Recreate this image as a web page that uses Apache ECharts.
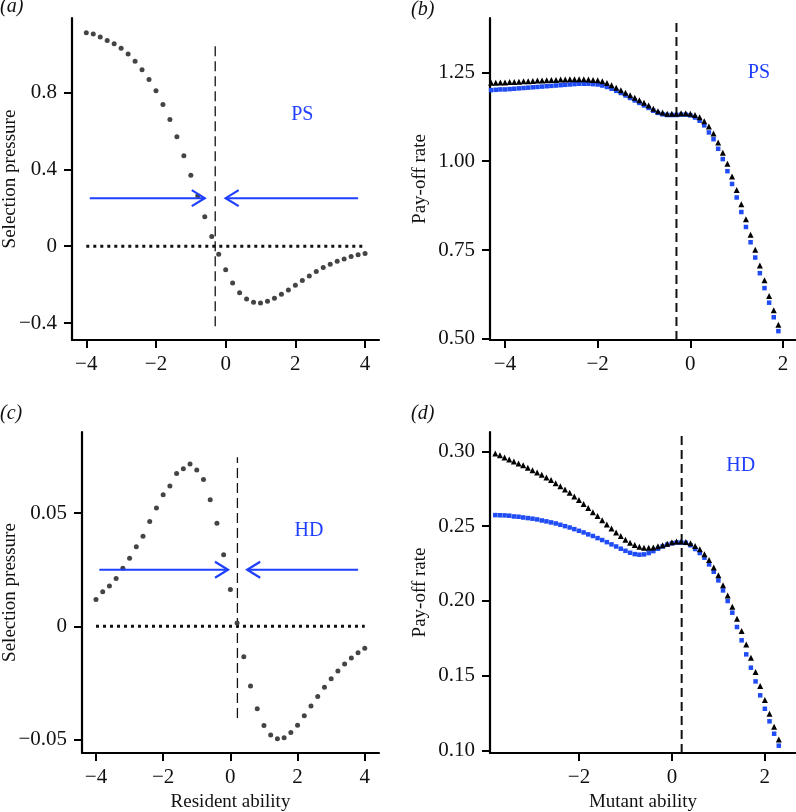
<!DOCTYPE html>
<html>
<head>
<meta charset="utf-8">
<script src="https://cdn.jsdelivr.net/npm/echarts@6/dist/echarts.min.js"></script>
<style>
  html, body { margin: 0; padding: 0; background: #fff; }
  #main { width: 796px; height: 812px; }
</style>
</head>
<body>
<div id="main"></div>
<script>
// ---- data ----
// (a) and (c): resident ability grid
var residentX = [-4.0,-3.8,-3.6,-3.4,-3.2,-3.0,-2.8,-2.6,-2.4,-2.2,-2.0,-1.8,-1.6,-1.4,-1.2,-1.0,-0.8,-0.6,-0.4,-0.2,
  0.0,0.2,0.4,0.6,0.8,1.0,1.2,1.4,1.6,1.8,2.0,2.2,2.4,2.6,2.8,3.0,3.2,3.4,3.6,3.8,4.0];
var psPressure = [1.111,1.104,1.089,1.071,1.054,1.030,1.000,0.963,0.918,0.868,0.809,0.737,0.659,0.570,0.471,0.369,0.262,0.153,0.050,-0.042,
  -0.123,-0.191,-0.242,-0.275,-0.292,-0.296,-0.287,-0.271,-0.250,-0.228,-0.203,-0.179,-0.155,-0.132,-0.111,-0.094,-0.078,-0.066,-0.054,-0.045,-0.038];
var hdPressure = [0.0119,0.0153,0.0178,0.0211,0.0256,0.0301,0.0351,0.0398,0.0463,0.0523,0.0581,0.0620,0.0675,0.0696,0.0717,0.0690,0.0648,0.0559,0.0455,0.0316,
  0.0163,0.0015,-0.0134,-0.0263,-0.0364,-0.0438,-0.0480,-0.0496,-0.0492,-0.0468,-0.0436,-0.0395,-0.0352,-0.0310,-0.0269,-0.0231,-0.0197,-0.0166,-0.0140,-0.0116,-0.0097];

// (b) PS pay-off
var psMutantX = [-4.3,-4.2,-4.1,-4.0,-3.9,-3.8,-3.7,-3.6,-3.5,-3.4,-3.3,-3.2,-3.1,-3.0,-2.9,-2.8,-2.7,-2.6,-2.5,-2.4,-2.3,-2.2,-2.1,-2.0,
  -1.9,-1.8,-1.7,-1.6,-1.5,-1.4,-1.3,-1.2,-1.1,-1.0,-0.9,-0.8,-0.7,-0.6,-0.5,-0.4,-0.3,-0.2,-0.1,0.0,
  0.1,0.2,0.3,0.4,0.5,0.6,0.7,0.8,0.9,1.0,1.1,1.2,1.3,1.4,1.5,1.6,1.7,1.8,1.9];
var psBlack = [1.218,1.218,1.219,1.219,1.220,1.220,1.221,1.222,1.222,1.223,1.224,1.224,1.225,1.226,1.226,1.227,1.227,1.228,1.228,1.228,1.228,1.227,1.226,1.225,
  1.222,1.217,1.211,1.204,1.197,1.190,1.183,1.176,1.169,1.162,1.154,1.145,1.138,1.134,1.131,1.131,1.131,1.132,1.132,1.131,
  1.127,1.121,1.110,1.095,1.075,1.050,1.021,0.990,0.954,0.916,0.876,0.834,0.790,0.748,0.704,0.662,0.618,0.578,0.537];
var psBlue = [1.200,1.201,1.202,1.202,1.203,1.204,1.205,1.206,1.207,1.208,1.209,1.210,1.211,1.212,1.213,1.214,1.215,1.216,1.217,1.218,1.218,1.218,1.217,1.216,
  1.213,1.209,1.204,1.198,1.192,1.185,1.178,1.171,1.164,1.157,1.150,1.142,1.136,1.132,1.130,1.130,1.130,1.131,1.131,1.129,
  1.123,1.114,1.101,1.081,1.062,1.035,1.006,0.972,0.936,0.898,0.857,0.815,0.772,0.729,0.685,0.643,0.602,0.561,0.522];

// (d) HD pay-off
var hdMutantX = [-3.8,-3.7,-3.6,-3.5,-3.4,-3.3,-3.2,-3.1,-3.0,-2.9,-2.8,-2.7,-2.6,-2.5,-2.4,-2.3,-2.2,-2.1,-2.0,
  -1.9,-1.8,-1.7,-1.6,-1.5,-1.4,-1.3,-1.2,-1.1,-1.0,-0.9,-0.8,-0.7,-0.6,-0.5,-0.4,-0.3,-0.2,-0.1,0.0,
  0.1,0.2,0.3,0.4,0.5,0.6,0.7,0.8,0.9,1.0,1.1,1.2,1.3,1.4,1.5,1.6,1.7,1.8,1.9,2.0,2.1,2.2,2.3];
var hdBlack = [0.2980,0.2967,0.2953,0.2940,0.2926,0.2913,0.2900,0.2884,0.2868,0.2853,0.2837,0.2819,0.2802,0.2781,0.2761,0.2739,0.2717,0.2692,0.2668,
  0.2641,0.2614,0.2587,0.2561,0.2532,0.2505,0.2478,0.2451,0.2427,0.2402,0.2382,0.2367,0.2356,0.2349,0.2349,0.2351,0.2358,0.2366,0.2376,0.2385,
  0.2390,0.2390,0.2388,0.2379,0.2361,0.2338,0.2306,0.2266,0.2217,0.2164,0.2097,0.2030,0.1954,0.1874,0.1791,0.1702,0.1613,0.1517,0.1423,0.1330,0.1238,0.1151,0.1066];
var hdBlue = [0.2574,0.2573,0.2572,0.2570,0.2565,0.2563,0.2558,0.2554,0.2550,0.2545,0.2538,0.2532,0.2525,0.2518,0.2509,0.2500,0.2491,0.2480,0.2469,
  0.2458,0.2445,0.2434,0.2420,0.2407,0.2393,0.2378,0.2364,0.2349,0.2335,0.2322,0.2313,0.2309,0.2311,0.2320,0.2333,0.2349,0.2364,0.2376,0.2385,
  0.2390,0.2390,0.2388,0.2372,0.2347,0.2320,0.2289,0.2244,0.2195,0.2137,0.2070,0.1999,0.1921,0.1825,0.1736,0.1642,0.1553,0.1461,0.1368,0.1278,0.1194,0.1111,0.1031];

// dashed vertical markers: [x, yFrom, yTo]
var vlineA = [-0.3, -0.416, 1.063];
var vlineB = [-0.3, 0.497, 1.40];
var vlineC = [0.21, -0.0405, 0.0747];
var vlineD = [0.21, 0.0982, 0.311];
// dotted zero lines: [xFrom, xTo]
var zeroA = [-4, 4];
var zeroC = [-4, 4];
// arrows: [xFrom, xTo, y]
var arrowsA = [[-3.9, -0.6, 0.25], [3.8, 0.0, 0.25]];
var arrowsC = [[-3.9, -0.07, 0.025], [3.8, 0.5, 0.025]];
// game labels: [x, y, text]
var tagA = [2.2, 0.685, 'PS'];
var tagB = [1.48, 1.25, 'PS'];
var tagC = [2.34, 0.042, 'HD'];
var tagD = [1.48, 0.2906, 'HD'];

// tick values
var xTicksAC = [-4, -2, 0, 2, 4];
var xTicksB = [-4, -2, 0, 2];
var xTicksD = [-2, 0, 2];
var yTicksA = [-0.4, 0, 0.4, 0.8];
var yTicksB = [0.5, 0.75, 1.0, 1.25];
var yTicksC = [-0.05, 0, 0.05];
var yTicksD = [0.10, 0.15, 0.20, 0.25, 0.30];

function zip(xs, ys) {
  var out = [];
  for (var i = 0; i < xs.length; i++) out.push([xs[i], ys[i]]);
  return out;
}

var FONT = 'Liberation Serif';
var TICK_SIZE = 21;
var NAME_SIZE = 19;
var BLUE = '#1f3fff';
var SQUARE_BLUE = '#1f4cf5';

function minus(s) { return String(s).replace('-', '\u2212'); }

function xAxisOf(idx, min, max, ticks, name) {
  return {
    type: 'value', gridIndex: idx, min: min, max: max,
    name: name || '', nameLocation: 'middle', nameGap: 40, nameMoveOverlap: false,
    nameTextStyle: { fontFamily: FONT, fontSize: NAME_SIZE, color: '#111' },
    splitLine: { show: false },
    axisLine: { onZero: false, lineStyle: { color: '#000', width: 2.2 } },
    axisTick: { customValues: ticks, length: 8, lineStyle: { color: '#000', width: 2 } },
    axisLabel: { customValues: ticks, margin: 14, fontFamily: FONT, fontSize: TICK_SIZE, color: '#111',
      formatter: function (v) { return minus(v); } }
  };
}
function yAxisOf(idx, min, max, ticks, dec, name, gap) {
  return {
    type: 'value', gridIndex: idx, min: min, max: max,
    name: name, nameLocation: 'middle', nameGap: gap, nameMoveOverlap: false,
    nameTextStyle: { fontFamily: FONT, fontSize: NAME_SIZE, color: '#111' },
    splitLine: { show: false },
    axisLine: { onZero: false, lineStyle: { color: '#000', width: 2.2 } },
    axisTick: { customValues: ticks, length: 8, lineStyle: { color: '#000', width: 2 } },
    axisLabel: { customValues: ticks, margin: 15, fontFamily: FONT, fontSize: TICK_SIZE, color: '#111',
      formatter: function (v) { return v === 0 ? '0' : minus(v.toFixed(dec)); } }
  };
}

function arrowItem(params, api) {
  var p0 = api.coord([api.value(0), api.value(2)]);
  var p1 = api.coord([api.value(1), api.value(2)]);
  var dir = p1[0] > p0[0] ? 1 : -1;
  return {
    type: 'group',
    children: [
      { type: 'line', shape: { x1: p0[0], y1: p0[1], x2: p1[0], y2: p1[1] },
        style: { stroke: BLUE, lineWidth: 2 } },
      { type: 'polyline', shape: { points: [[p1[0] - dir * 13, p1[1] - 8], [p1[0], p1[1]], [p1[0] - dir * 13, p1[1] + 8]] },
        style: { stroke: BLUE, lineWidth: 2.2, fill: null } }
    ]
  };
}

function vline(idx, v, width, dash) {
  return { type: 'line', xAxisIndex: idx, yAxisIndex: idx, symbol: 'none', silent: true,
    data: [[v[0], v[1]], [v[0], v[2]]],
    lineStyle: { color: '#111', width: width, type: dash } };
}
function zeroLine(idx, v) {
  return { type: 'line', xAxisIndex: idx, yAxisIndex: idx, symbol: 'none', silent: true,
    data: [[v[0], 0], [v[1], 0]],
    lineStyle: { color: '#111', width: 3, type: [3, 4] } };
}
function tag(idx, t) {
  return { type: 'scatter', xAxisIndex: idx, yAxisIndex: idx, symbolSize: 0, silent: true,
    data: [[t[0], t[1]]], z: 5,
    label: { show: true, position: 'inside', formatter: t[2], fontFamily: FONT, fontSize: 20, color: BLUE, opacity: 1 } };
}
function dots(idx, data) {
  return { type: 'scatter', xAxisIndex: idx, yAxisIndex: idx, symbol: 'circle', symbolSize: 5,
    itemStyle: { color: '#444', opacity: 1 }, data: data, z: 3 };
}
function squares(idx, data) {
  return { type: 'scatter', xAxisIndex: idx, yAxisIndex: idx, symbol: 'rect', symbolSize: 4.5,
    itemStyle: { color: SQUARE_BLUE, opacity: 1 }, data: data, z: 3 };
}
function triangles(idx, data) {
  return { type: 'scatter', xAxisIndex: idx, yAxisIndex: idx, symbol: 'triangle', symbolSize: [6, 6],
    symbolOffset: [0, -1], itemStyle: { color: '#000', opacity: 1 }, data: data, z: 4 };
}
function arrows(idx, data) {
  return { type: 'custom', xAxisIndex: idx, yAxisIndex: idx, renderItem: arrowItem, data: data, z: 6, silent: true };
}

var chart = echarts.init(document.getElementById('main'), null, { renderer: 'canvas' });

var PANEL_FONT = 'italic 20px "Liberation Serif"';
var option = {
  backgroundColor: '#fff',
  animation: false,
  grid: [
    { left: 72, top: 18, width: 307, height: 322, containLabel: false, outerBoundsMode: 'none' },
    { left: 490, top: 18, width: 306, height: 322, containLabel: false, outerBoundsMode: 'none' },
    { left: 82, top: 432, width: 297, height: 321, containLabel: false, outerBoundsMode: 'none' },
    { left: 490, top: 432, width: 306, height: 321, containLabel: false, outerBoundsMode: 'none' }
  ],
  xAxis: [
    xAxisOf(0, -4.41, 4.40, xTicksAC),
    xAxisOf(1, -4.324, 2.28, xTicksB),
    xAxisOf(2, -4.416, 4.424, xTicksAC, 'Resident ability'),
    xAxisOf(3, -3.914, 2.67, xTicksD, 'Mutant ability')
  ],
  yAxis: [
    yAxisOf(0, -0.488, 1.1875, yTicksA, 1, 'Selection pressure', 52),
    yAxisOf(1, 0.497, 1.403, yTicksB, 2, 'Pay-off rate', 60),
    yAxisOf(2, -0.0559, 0.0858, yTicksC, 2, 'Selection pressure', 62),
    yAxisOf(3, 0.0982, 0.313, yTicksD, 2, 'Pay-off rate', 60)
  ],
  graphic: [
    { type: 'text', left: 0, top: -3, style: { text: '(a)', font: PANEL_FONT, fill: '#111' } },
    { type: 'text', left: 411, top: 0, style: { text: '(b)', font: PANEL_FONT, fill: '#111' } },
    { type: 'text', left: 0, top: 404, style: { text: '(c)', font: PANEL_FONT, fill: '#111' } },
    { type: 'text', left: 411, top: 404, style: { text: '(d)', font: PANEL_FONT, fill: '#111' } }
  ],
  series: [
    // (a)
    zeroLine(0, zeroA),
    vline(0, vlineA, 1.3, [10, 5]),
    dots(0, zip(residentX, psPressure)),
    arrows(0, arrowsA),
    tag(0, tagA),
    // (b)
    vline(1, vlineB, 2, [9, 5]),
    squares(1, zip(psMutantX, psBlue)),
    triangles(1, zip(psMutantX, psBlack)),
    tag(1, tagB),
    // (c)
    zeroLine(2, zeroC),
    vline(2, vlineC, 1.3, [10, 5]),
    dots(2, zip(residentX, hdPressure)),
    arrows(2, arrowsC),
    tag(2, tagC),
    // (d)
    vline(3, vlineD, 2, [9, 5]),
    squares(3, zip(hdMutantX, hdBlue)),
    triangles(3, zip(hdMutantX, hdBlack)),
    tag(3, tagD)
  ]
};

chart.setOption(option);
</script>
</body>
</html>
